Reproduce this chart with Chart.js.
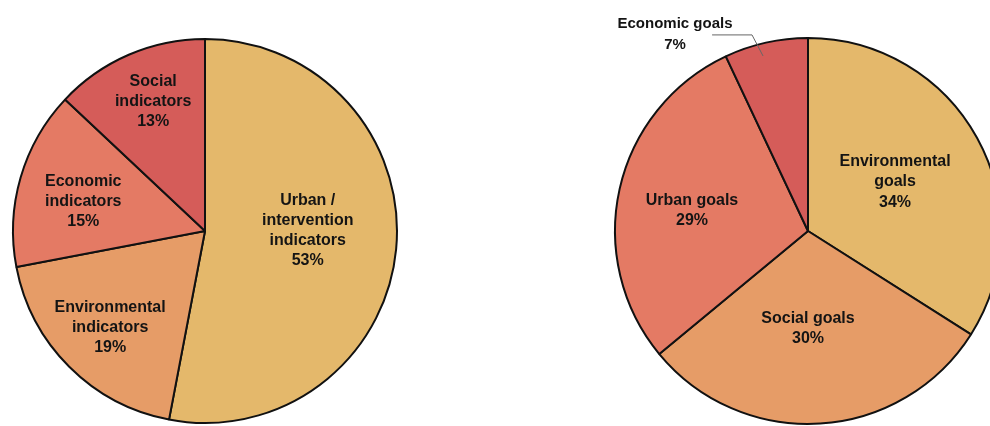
<!DOCTYPE html>
<html>
<head>
<meta charset="utf-8">
<script src="https://cdn.jsdelivr.net/npm/chart.js@4.4.1/dist/chart.umd.min.js"></script>
<style>
  html, body { margin: 0; padding: 0; background: #fff; }
  body { position: relative; width: 990px; height: 426px; overflow: hidden; }
  canvas { position: absolute; }
  #indicators-chart { left: -15px; top: 11px; }
  #goals-chart { left: 588px; top: 11px; }
</style>
</head>
<body>
<canvas id="indicators-chart" width="440" height="440"></canvas>
<canvas id="goals-chart" width="440" height="440"></canvas>
<script>
// Indicator types (left pie), clockwise from 12 o'clock
var indicatorNames = [
    ['Urban /', 'intervention', 'indicators'],
    ['Environmental', 'indicators'],
    ['Economic', 'indicators'],
    ['Social', 'indicators']
];
var indicatorValues = [53, 19, 15, 13];

// Goal types (right pie), clockwise from 12 o'clock
var goalNames = [
    ['Environmental', 'goals'],
    ['Social goals'],
    ['Urban goals'],
    ['Economic goals']
];
var goalValues = [34, 30, 29, 7];

var SAND = '#e4b86b';
var ORANGE = '#e69c67';
var CORAL = '#e47a64';
var RED = '#d55c59';

/**
 * Writes each slice's name and share at a point given as a fraction of the radius.
 * A slice may instead have an outside label with a leader line.
 */
var sliceLabels = {
    id: 'sliceLabels',
    afterDatasetsDraw: function (chart, args, opts) {
        var ctx = chart.ctx;
        var meta = chart.getDatasetMeta(0);
        var names = chart.data.labels;
        var values = chart.data.datasets[0].data;
        ctx.save();
        ctx.fillStyle = '#141414';
        ctx.textAlign = 'center';
        ctx.textBaseline = 'middle';
        for (var i = 0; i < meta.data.length; i++) {
            var arc = meta.data[i];
            var r = arc.outerRadius;
            var at = opts.anchors[i];
            var lines = names[i].concat([values[i] + '%']);
            var size = (opts.sizes && opts.sizes[i]) || 16;
            var lh = (opts.lineHeights && opts.lineHeights[i]) || opts.lineHeight;
            ctx.font = 'bold ' + size + 'px "Liberation Sans", Arial, sans-serif';
            var cx = arc.x + at[0] * r;
            var cy = arc.y + at[1] * r;
            var top = cy - (lines.length - 1) * lh / 2;
            for (var j = 0; j < lines.length; j++) {
                ctx.fillText(lines[j], cx, top + j * lh);
            }
            var leader = opts.leaders && opts.leaders[i];
            if (leader) {
                ctx.beginPath();
                ctx.strokeStyle = '#666';
                ctx.lineWidth = 1;
                for (var k = 0; k < leader.length; k++) {
                    var px = arc.x + leader[k][0] * r;
                    var py = arc.y + leader[k][1] * r;
                    if (k === 0) ctx.moveTo(px, py); else ctx.lineTo(px, py);
                }
                ctx.stroke();
            }
        }
        ctx.restore();
    }
};

function createPie(id, names, values, colors, radius, labelOpts) {
    return new Chart(document.getElementById(id).getContext('2d'), {
        type: 'pie',
        data: {
            labels: names,
            datasets: [{
                data: values,
                backgroundColor: colors,
                borderColor: '#111',
                borderWidth: 2
            }]
        },
        options: {
            responsive: false,
            animation: false,
            devicePixelRatio: 1,
            radius: radius,
            plugins: {
                legend: { display: false },
                tooltip: { enabled: false },
                sliceLabels: labelOpts
            }
        },
        plugins: [sliceLabels]
    });
}

createPie('indicators-chart', indicatorNames, indicatorValues, [SAND, ORANGE, CORAL, RED], 192, {
    lineHeight: 20,
    anchors: [[0.535, 0.0], [-0.494, 0.504], [-0.634, -0.151], [-0.27, -0.673]]
});

createPie('goals-chart', goalNames, goalValues, [SAND, ORANGE, CORAL, RED], 193, {
    lineHeight: 20.5,
    lineHeights: [20.5, 20.5, 20.5, 21],
    anchors: [[0.451, -0.254], [0.0, 0.505], [-0.601, -0.106], [-0.689, -1.018]],
    sizes: [16, 16, 16, 15],
    leaders: { 3: [[-0.497, -1.016], [-0.290, -1.016], [-0.233, -0.907]] }
});
</script>
</body>
</html>
